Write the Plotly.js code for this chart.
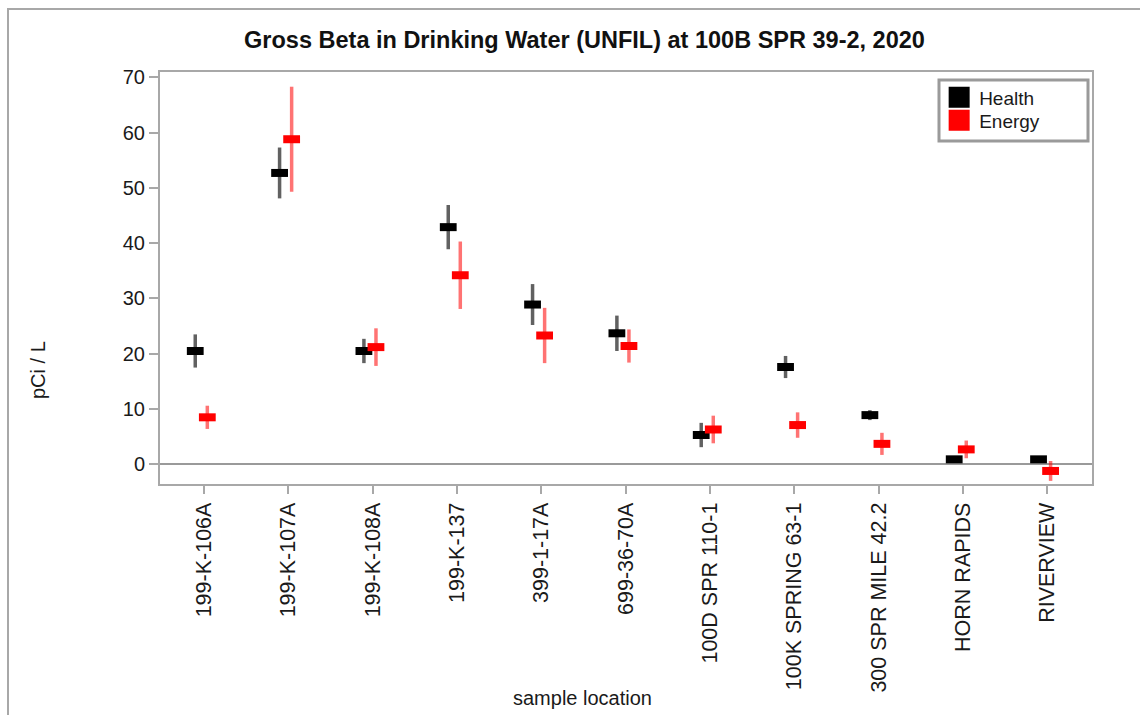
<!DOCTYPE html>
<html>
<head>
<meta charset="utf-8">
<script src="https://cdn.plot.ly/plotly-3.0.1.min.js"></script>
<style>
  html, body { margin: 0; padding: 0; background: #fff; }
  #wrap { position: relative; width: 1140px; height: 715px; overflow: hidden; }
  #chart { position: absolute; left: 0; top: 0; width: 1140px; height: 715px; }
  #frame { position: absolute; left: 7px; top: 8px; width: 1200px; height: 800px;
           border-left: 2px solid #a8a8a8; border-top: 2px solid #a8a8a8; pointer-events: none; }
</style>
</head>
<body>
<div id="wrap">
  <div id="chart"></div>
  <div id="frame"></div>
</div>
<script>
// ---- data ----
const locations = ["199-K-106A", "199-K-107A", "199-K-108A", "199-K-137", "399-1-17A",
  "699-36-70A", "100D SPR 110-1", "100K SPRING 63-1", "300 SPR MILE 42.2", "HORN RAPIDS", "RIVERVIEW"];
const healthValues = [20.5, 52.7, 20.5, 42.9, 28.9, 23.7, 5.3, 17.6, 8.9, 0.9, 0.9];
const healthErrors = [3.0, 4.6, 2.2, 4.0, 3.7, 3.2, 2.2, 2.0, 0.9, 0.5, 0.4];
const energyValues = [8.5, 58.8, 21.2, 34.2, 23.3, 21.4, 6.3, 7.1, 3.7, 2.7, -1.2];
const energyErrors = [2.1, 9.5, 3.4, 6.1, 5.0, 3.0, 2.5, 2.3, 2.0, 1.6, 1.8];
const yTicks = [0, 10, 20, 30, 40, 50, 60, 70];

const HEALTH_SHIFT = -0.104;   // horizontal dodge in category units
const ENERGY_SHIFT = 0.039;
const idx = locations.map((_, i) => i);

const FONT = "Liberation Sans, Arial, sans-serif";
const TXT = "#1a1a1a";
const GRAY = "#a8a8a8";

const traces = [
  {
    type: "scatter", mode: "markers", name: "Health", showlegend: false,
    x: idx.map(i => i + HEALTH_SHIFT), y: healthValues,
    marker: { symbol: "line-ew", size: 12, color: "#000000", line: { width: 8, color: "#000000" } },
    error_y: { type: "data", array: healthErrors, visible: true, width: 0, thickness: 3.5, color: "rgba(0,0,0,0.62)" },
    hoverinfo: "y"
  },
  {
    type: "scatter", mode: "markers", name: "Energy", showlegend: false,
    x: idx.map(i => i + ENERGY_SHIFT), y: energyValues,
    marker: { symbol: "line-ew", size: 12, color: "#ff0000", line: { width: 8, color: "#ff0000" } },
    error_y: { type: "data", array: energyErrors, visible: true, width: 0, thickness: 3.5, color: "rgba(255,0,0,0.55)" },
    hoverinfo: "y"
  },
  {
    type: "scatter", mode: "markers", name: "Health", x: [null], y: [null], showlegend: true, legend: "legend",
    marker: { symbol: "square", size: 16, color: "#000000", line: { width: 5, color: "#000000" } }
  },
  {
    type: "scatter", mode: "markers", name: "Energy", x: [null], y: [null], showlegend: true, legend: "legend2",
    marker: { symbol: "square", size: 16, color: "#ff0000", line: { width: 5, color: "#ff0000" } }
  }
];

const legendBase = {
  x: 0.836, xanchor: "left", yanchor: "top",
  bgcolor: "rgba(0,0,0,0)", borderwidth: 0,
  font: { family: FONT, size: 19, color: TXT },
  itemclick: false, itemdoubleclick: false
};

const layout = {
  width: 1140, height: 715,
  margin: { l: 160, r: 48, t: 72, b: 231, pad: 0 },
  paper_bgcolor: "#ffffff", plot_bgcolor: "#ffffff",
  font: { family: FONT, size: 20, color: TXT },
  title: {
    text: "Gross Beta in Drinking Water (UNFIL) at 100B SPR 39-2, 2020",
    font: { family: FONT, size: 23.5, color: "#111", weight: "bold" },
    xref: "container", x: 0.5127, xanchor: "center",
    yref: "container", y: 0.944, yanchor: "middle"
  },
  xaxis: {
    range: [-0.522, 10.53],
    tickmode: "array", tickvals: idx, ticktext: locations,
    tickangle: -90,
    tickfont: { family: FONT, size: 21.5, color: TXT },
    ticks: "outside", ticklen: 8, tickwidth: 2, tickcolor: GRAY,
    showline: true, linecolor: GRAY, linewidth: 2, mirror: true,
    showgrid: false, zeroline: false
  },
  yaxis: {
    range: [-3.56, 70.96],
    tickmode: "array", tickvals: yTicks,
    tickfont: { family: FONT, size: 20, color: TXT },
    ticks: "outside", ticklen: 9, tickwidth: 2, tickcolor: GRAY,
    showline: true, linecolor: GRAY, linewidth: 2, mirror: true,
    showgrid: false,
    zeroline: true, zerolinecolor: "#9a9a9a", zerolinewidth: 2
  },
  showlegend: true,
  legend: Object.assign({}, legendBase, { y: 0.9845 }),
  legend2: Object.assign({}, legendBase, { y: 0.9286 }),
  annotations: [
    { text: "sample location", xref: "paper", yref: "paper", x: 0.4528, y: -0.5194,
      xanchor: "center", yanchor: "middle", showarrow: false, font: { family: FONT, size: 20, color: TXT } },
    { text: "pCi / L", xref: "paper", yref: "paper", x: -0.1309, y: 0.2767, textangle: -90,
      xanchor: "center", yanchor: "middle", showarrow: false, font: { family: FONT, size: 20, color: TXT } }
  ],
  shapes: [
    { type: "rect", xref: "paper", yref: "paper",
      x0: (939 - 160) / 932, x1: (1088 - 160) / 932,
      y0: (484 - 141) / 412, y1: (484 - 80) / 412,
      line: { color: "#9a9a9a", width: 3 }, fillcolor: "rgba(0,0,0,0)" }
  ]
};

Plotly.newPlot("chart", traces, layout, { displayModeBar: false, staticPlot: true });
</script>
</body>
</html>
